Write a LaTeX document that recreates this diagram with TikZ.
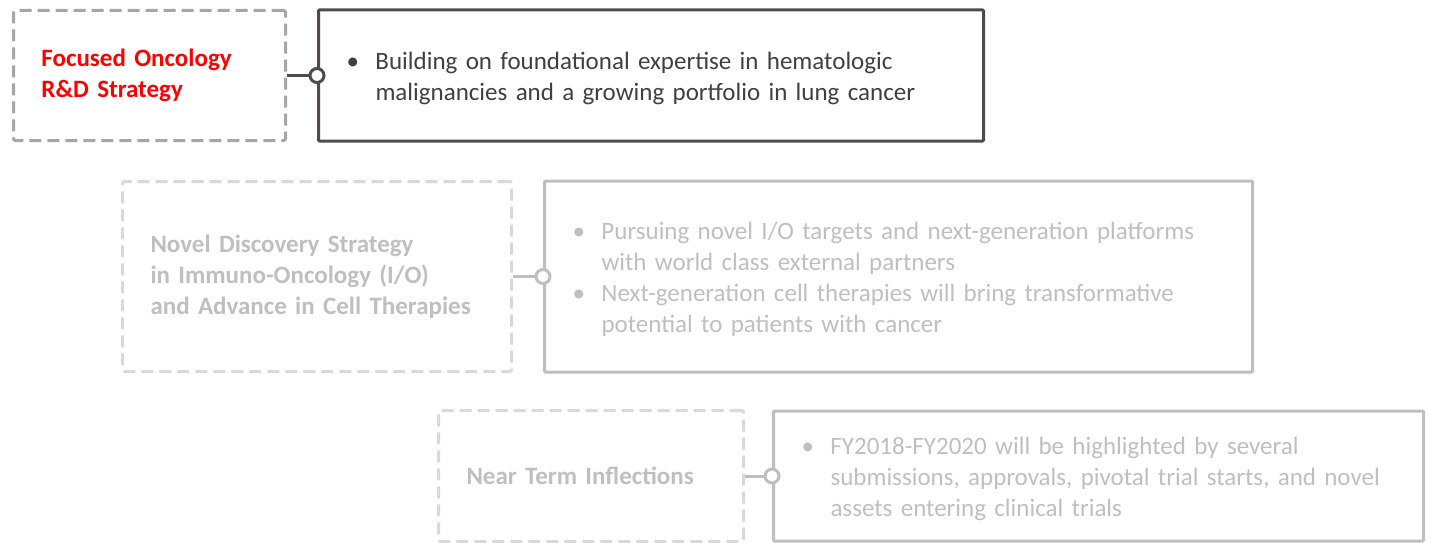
\documentclass[tikz,border=0pt]{standalone}
\usepackage{fontspec}
\setmainfont{Carlito}
\usetikzlibrary{positioning}

\definecolor{darkline}{RGB}{80,75,75}
\definecolor{darktext}{RGB}{64,64,64}
\definecolor{titlered}{RGB}{255,0,0}
\definecolor{dashdark}{RGB}{166,166,166}
\definecolor{dashlight}{RGB}{217,217,217}
\definecolor{greyline}{RGB}{191,191,191}

% bullet line with hanging indent
\newcommand{\bulletline}[1]{\par\noindent\hangindent=29pt\hangafter=1\makebox[29pt][l]{\textbullet}#1\par}

\tikzset{
  headbox/.style={draw, dash pattern=on 12pt off 6pt, line width=3pt, rounded corners=2pt,
    inner xsep=28pt, align=left, anchor=west, font=\bfseries\fontsize{25}{31}\selectfont},
  bodybox/.style={draw, line width=3pt, rounded corners=1pt, inner xsep=28pt,
    align=left, font=\fontsize{25}{31}\selectfont},
  joint/.style={circle, fill=white, line width=3pt, inner sep=0pt, minimum size=14pt},
}

\begin{document}
\begin{tikzpicture}[x=1pt,y=-1pt]
\useasboundingbox (0,0) rectangle (1430,543);

% Focused oncology row
\node[headbox, dashdark, text=titlered, text width=216pt, minimum height=130pt] (focus) at (12,75.5)
  {Focused Oncology\\R\&D Strategy};
\node[bodybox, darkline, text=darktext, text width=609pt, minimum height=131pt, right=30pt of focus] (focusnote)
  {\bulletline{Building on foundational expertise in hematologic\newline malignancies and a growing portfolio in lung cancer}\vspace{8pt}};
\draw[darkline, line width=3pt] (focus.east) -- (focusnote.west);
\node[joint, draw=darkline] (focusjoint) at (focusnote.west) {};

% Discovery row
\node[headbox, dashlight, text=greyline, text width=333pt, minimum height=190pt] (discovery) at (121,276.5)
  {Novel Discovery Strategy\\in Immuno-Oncology (I/O)\\and Advance in Cell Therapies};
\node[bodybox, greyline, text=greyline, text width=652pt, minimum height=191pt, right=30pt of discovery] (discoverynote)
  {\bulletline{Pursuing novel I/O targets and next-generation platforms\newline with world class external partners}
   \bulletline{Next-generation cell therapies will bring transformative\newline potential to patients with cancer}\vspace{8pt}};
\draw[greyline, line width=3pt] (discovery.east) -- (discoverynote.west);
\node[joint, draw=greyline] (discoveryjoint) at (discoverynote.west) {};

% Near term row
\node[headbox, dashlight, text=greyline, text width=249pt, minimum height=131pt] (nearterm) at (437,476)
  {Near Term Inflections};
\node[bodybox, greyline, text=greyline, text width=594pt, minimum height=130pt, right=27pt of nearterm] (neartermnote)
  {\bulletline{FY2018-FY2020 will be highlighted by several\newline submissions, approvals, pivotal trial starts, and novel\newline assets entering clinical trials}\vspace{8pt}};
\draw[greyline, line width=3pt] (nearterm.east) -- (neartermnote.west);
\node[joint, draw=greyline] (neartermjoint) at (neartermnote.west) {};

\end{tikzpicture}
\end{document}
